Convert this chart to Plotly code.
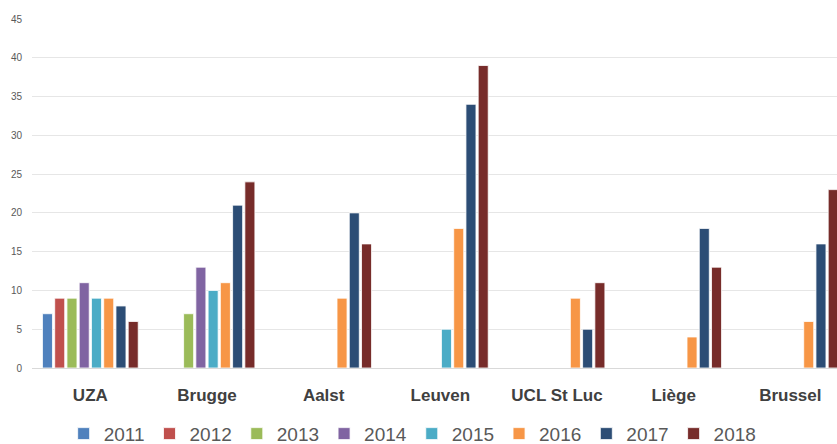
import plotly.graph_objects as go

sites = ["UZA", "Brugge", "Aalst", "Leuven", "UCL St Luc", "Liège", "Brussel"]
years = ["2011", "2012", "2013", "2014", "2015", "2016", "2017", "2018"]

v2011 = [7, None, None, None, None, None, None]
v2012 = [9, None, None, None, None, None, None]
v2013 = [9, 7, None, None, None, None, None]
v2014 = [11, 13, None, None, None, None, None]
v2015 = [9, 10, None, 5, None, None, None]
v2016 = [9, 11, 9, 18, 9, 4, 6]
v2017 = [8, 21, 20, 34, 5, 18, 16]
v2018 = [6, 24, 16, 39, 11, 13, 23]

series = [v2011, v2012, v2013, v2014, v2015, v2016, v2017, v2018]
colors = ["#4F81BD", "#C0504D", "#9BBB59", "#8064A2", "#4BACC6", "#F79646", "#2C4D75", "#772C2A"]

fig = go.Figure()
for year, vals, col in zip(years, series, colors):
    fig.add_trace(go.Bar(
        name=year, x=sites, y=vals,
        marker_color=col,
        marker_line_color="rgba(255,255,255,0.8)",
        marker_line_width=1,
    ))

fig.update_layout(
    width=837, height=444,
    barmode="group", bargap=0.16, bargroupgap=0.18,
    plot_bgcolor="white", paper_bgcolor="white",
    margin=dict(l=32, r=0, t=19, b=76, autoexpand=False),
    font=dict(family="Liberation Sans, sans-serif", color="#595959"),
    legend=dict(
        orientation="h", xref="container", x=0.493, xanchor="center",
        yref="paper", y=-0.134, yanchor="top",
        font=dict(size=19, color="#595959"),
        tracegroupgap=0,
    ),
    showlegend=True,
)
fig.update_xaxes(
    range=[-0.5, 6.4], automargin=False,
    showline=True, linecolor="#d9d9d9", linewidth=1,
    ticks="", ticklabelstandoff=12,
    tickfont=dict(family="Liberation Sans, sans-serif", size=17, color="#404040", weight="bold"),
)
fig.update_yaxes(
    range=[0, 45], dtick=5, automargin=False,
    showgrid=True, gridcolor="#e6e6e6", gridwidth=1,
    zeroline=False,
    tickfont=dict(family="Liberation Sans, sans-serif", size=10, color="#595959"),
    ticklabelstandoff=9,
)

# drop the page's default body margin so the figure fills the window
fig.write_html(
    "out.html",
    config={"displayModeBar": False},
    post_script="document.body.style.margin='0';document.body.style.overflow='hidden';",
)
